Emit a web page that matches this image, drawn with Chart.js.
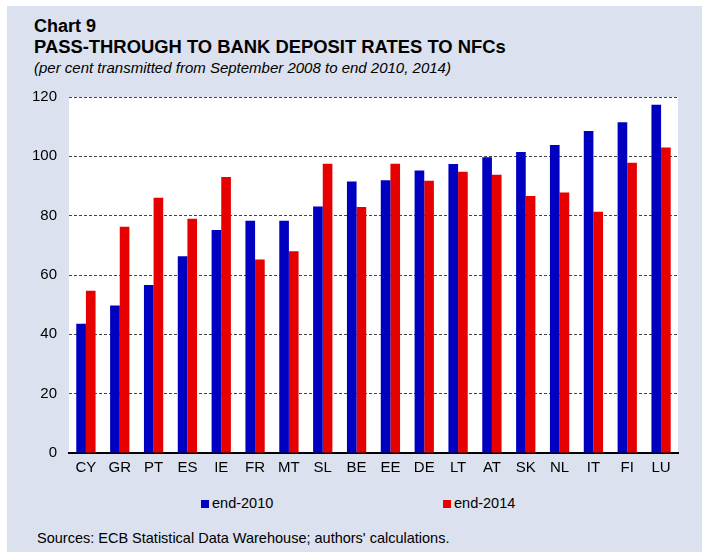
<!DOCTYPE html>
<html>
<head>
<meta charset="utf-8">
<script src="https://cdn.jsdelivr.net/npm/chart.js@4"></script>
<style>
  body { margin: 0; width: 702px; height: 552px; background: #fff; font-family: "Liberation Sans", Arial, sans-serif; }
  #panel { position: absolute; left: 7px; top: 6px; width: 695px; height: 546px; background: #dbe1ee; }
  .t { position: absolute; left: 34px; color: #000; white-space: nowrap; }
  #chart9 { top: 16px; font-size: 18px; font-weight: bold; }
  #title { top: 36px; font-size: 18.4px; font-weight: bold; }
  #sub { top: 59px; font-size: 15px; font-style: italic; }
  #wrap { position: absolute; left: 7px; top: 85px; width: 695px; height: 400px; }
  .lg { position: absolute; top: 495px; font-size: 14.5px; white-space: nowrap; }
  .lg i { display: inline-block; width: 8px; height: 8px; margin-right: 3px; vertical-align: 0px; }
  #src { position: absolute; left: 37px; top: 530px; font-size: 14.5px; white-space: nowrap; }
</style>
</head>
<body>
<div id="panel"></div>
<div class="t" id="chart9">Chart 9</div>
<div class="t" id="title">PASS-THROUGH TO BANK DEPOSIT RATES TO NFCs</div>
<div class="t" id="sub">(per cent transmitted from September 2008 to end 2010, 2014)</div>
<div id="wrap"><canvas id="myChart"></canvas></div>
<div id="src">Sources: ECB Statistical Data Warehouse; authors' calculations.</div>
<script>
var countries = ['CY','GR','PT','ES','IE','FR','MT','SL','BE','EE','DE','LT','AT','SK','NL','IT','FI','LU'];
var end2010 = [43.6, 49.7, 56.6, 66.3, 75.2, 78.3, 78.3, 83.1, 91.5, 91.9, 95.2, 97.4, 99.7, 101.5, 103.8, 108.5, 111.5, 117.4];
var end2014 = [54.7, 76.3, 86.0, 79.0, 93.0, 65.2, 68.0, 97.5, 82.9, 97.5, 91.8, 94.8, 93.8, 86.6, 87.8, 81.3, 97.8, 103.0];
var seriesNames = ['end-2010', 'end-2014'];
var yTicks = [0, 20, 40, 60, 80, 100, 120];

var whiteArea = {
    id: 'whiteArea',
    beforeDraw: function(chart) {
        var a = chart.chartArea;
        chart.ctx.save();
        chart.ctx.fillStyle = '#ffffff';
        chart.ctx.fillRect(a.left, a.top, a.right - a.left, a.bottom - a.top);
        chart.ctx.restore();
    }
};

var ctx = document.getElementById('myChart');
var myChart = new Chart(ctx, {
    type: 'bar',
    data: {
        labels: countries,
        datasets: [
            {label: seriesNames[0], data: end2010, backgroundColor: '#0000c0', categoryPercentage: 0.57, barPercentage: 1},
            {label: seriesNames[1], data: end2014, backgroundColor: '#e60000', categoryPercentage: 0.57, barPercentage: 1}
        ]
    },
    options: {
        responsive: true,
        maintainAspectRatio: false,
        animation: false,
        layout: {padding: {top: 12, right: 24, bottom: 0, left: 0}},
        plugins: {legend: {display: false}, tooltip: {enabled: false}},
        scales: {
            x: {
                grid: {display: false, drawTicks: false},
                border: {display: true, color: '#000', width: 2},
                ticks: {color: '#000', font: {family: 'Liberation Sans', size: 15}, padding: 6, maxRotation: 0, autoSkip: false},
                afterFit: function(s) { s.height = 32; s.paddingLeft = 0; s.paddingRight = 0; }
            },
            y: {
                min: 0, max: 120,
                afterBuildTicks: function(s) { s.ticks = yTicks.map(function(v) { return {value: v}; }); },
                grid: {
                    color: function(c) { return c.tick && c.tick.value === 0 ? 'rgba(0,0,0,0)' : '#444'; },
                    lineWidth: 1,
                    drawTicks: false
                },
                border: {display: false, dash: [3, 2]},
                ticks: {color: '#000', font: {family: 'Liberation Sans', size: 15}, padding: 12},
                afterFit: function(s) { s.width = 62; s.paddingTop = 0; s.paddingBottom = 0; }
            }
        }
    },
    plugins: [whiteArea]
});

// legend, built from the datasets
var lgX = [201, 443];
myChart.data.datasets.forEach(function(ds, i) {
    var d = document.createElement('div');
    d.className = 'lg';
    d.style.left = lgX[i] + 'px';
    d.innerHTML = '<i style="background:' + ds.backgroundColor + '"></i>' + ds.label;
    document.body.appendChild(d);
});
</script>
</body>
</html>
